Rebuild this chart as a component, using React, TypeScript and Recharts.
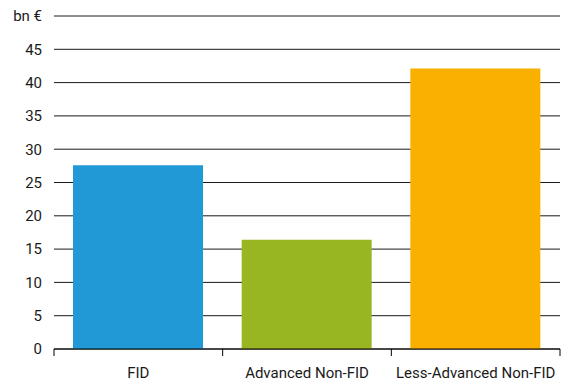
import React from 'react';
import { BarChart, Bar, XAxis, YAxis, CartesianGrid, Cell } from 'recharts';

const categories = ['FID', 'Advanced Non-FID', 'Less-Advanced Non-FID'];
const investment = [27.6, 16.4, 42.1];
const barColors = ['#2199d6', '#98b522', '#f9b000'];
const yTicks = [0, 5, 10, 15, 20, 25, 30, 35, 40, 45, 50];
const unitLabel = 'bn €';

const chartData = categories.map((name, i) => ({
  name,
  pos: i + 0.5,
  value: investment[i],
}));

// ticks at category edges get a tick mark, ticks at centres get the label
const xTicks = categories.flatMap((_, i) => [i, i + 0.5]).concat(categories.length);

const FONT = 'Roboto, "Liberation Sans", sans-serif';

const CategoryTick = (props: any) => {
  const { x, y, payload } = props;
  const v = payload.value;
  if (Number.isInteger(v)) {
    return <line x1={x} x2={x} y1={y} y2={y + 7} stroke="#000" strokeWidth={1} />;
  }
  return (
    <text x={x} y={y + 29} textAnchor="middle" fill="#1a1a1a" fontSize={15} fontFamily={FONT}>
      {categories[Math.floor(v)]}
    </text>
  );
};

const App: React.FC = () => {
  return (
    <div style={{ position: 'absolute', left: 0, top: 0, width: 565, height: 381, background: '#fff' }}>
      <BarChart width={565} height={381} data={chartData} margin={{ top: 16, right: 5, bottom: 2, left: 0 }}>
        <CartesianGrid horizontal vertical={false} stroke="#1a1a1a" strokeOpacity={1} />
        <XAxis
          type="number"
          dataKey="pos"
          domain={[0, categories.length]}
          ticks={xTicks}
          interval={0}
          tickLine={false}
          tickSize={0}
          tickMargin={0}
          axisLine={{ stroke: '#000' }}
          tick={<CategoryTick />}
          height={30}
        />
        <YAxis
          domain={[0, 50]}
          ticks={yTicks}
          interval={0}
          width={54}
          axisLine={false}
          tickLine={false}
          tickSize={0}
          tickMargin={12}
          tickFormatter={(v: number) => (v === 50 ? unitLabel : String(v))}
          tick={{ fill: '#1a1a1a', fontSize: 15, fontFamily: FONT }}
        />
        <Bar dataKey="value" barSize={130} isAnimationActive={false}>
          {chartData.map((d, i) => (
            <Cell key={d.name} fill={barColors[i]} />
          ))}
        </Bar>
      </BarChart>
    </div>
  );
};

export default App;
